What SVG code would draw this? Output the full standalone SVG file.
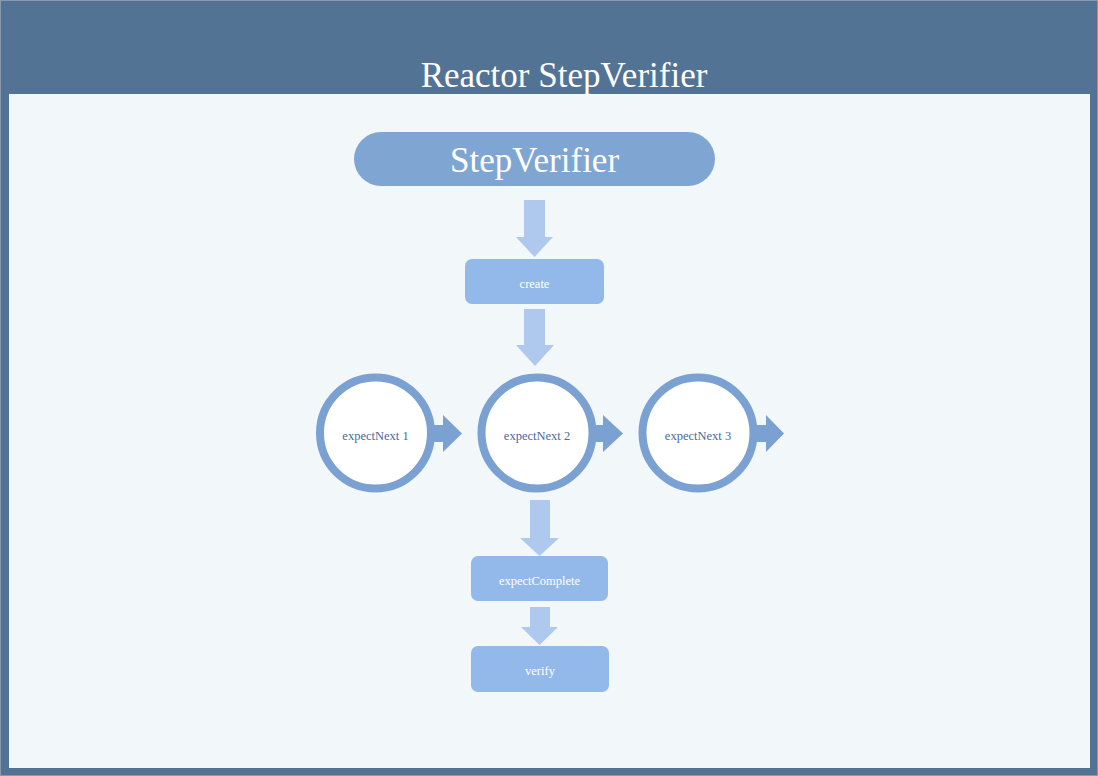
<svg xmlns="http://www.w3.org/2000/svg" width="1098" height="776" viewBox="0 0 1098 776">
<defs>
<style>
.title{font-family:"Liberation Serif","DejaVu Serif",serif;fill:#ffffff;text-anchor:middle}
.box{fill:#93b9eb}
.btxt{font-family:"Liberation Serif","DejaVu Serif",serif;font-size:12.5px;fill:#ffffff;text-anchor:middle}
.circ{fill:#ffffff;stroke:#7ba1d3;stroke-width:8}
.ctxt{font-family:"Liberation Serif","DejaVu Serif",serif;font-size:12.5px;fill:#4a6a9a;text-anchor:middle}
.varr{fill:#aec9ed}
.harr{fill:#7ba1d3}
</style>
</defs>
<rect x="0" y="0" width="1098" height="776" fill="#537394"/>
<rect x="0.5" y="0.5" width="1097" height="775" fill="none" stroke="#8a9aac" stroke-width="1"/>
<rect x="9" y="94" width="1081" height="674" fill="#f2f7f9"/>
<text class="title" x="564" y="87" font-size="35">Reactor StepVerifier</text>

<g id="connectors">
<polygon class="varr" points="524,200 545,200 545,237 553,237 534.5,257 516,237 524,237"/>
<polygon class="varr" points="524,309 545,309 545,345 554,345 535,366 516,345 524,345"/>
<polygon class="harr" points="432,425 443,425 443,415 462,433.5 443,452 443,442 432,442"/>
<polygon class="harr" points="594,425 603,425 603,415 623,433.5 603,452 603,442 594,442"/>
<polygon class="harr" points="756,425 766,425 766,415 784,433.5 766,452 766,442 756,442"/>
<polygon class="varr" points="530,500 550,500 550,538 559,538 539.5,556 520,538 530,538"/>
<polygon class="varr" points="530,607 550,607 550,627 558,627 539.5,645 521,627 530,627"/>
</g>

<g id="stepverifier">
<rect x="354" y="132" width="361" height="54" rx="27" fill="#7fa5d3"/>
<text class="title" x="534.5" y="172" font-size="35">StepVerifier</text>
</g>
<g id="create">
<rect class="box" x="465" y="259" width="139" height="45" rx="7"/>
<text class="btxt" x="534.5" y="288">create</text>
</g>
<g id="expectNext1">
<circle class="circ" cx="375.5" cy="433" r="55.5"/>
<text class="ctxt" x="375.5" y="440">expectNext 1</text>
</g>
<g id="expectNext2">
<circle class="circ" cx="537" cy="433" r="55.5"/>
<text class="ctxt" x="537" y="440">expectNext 2</text>
</g>
<g id="expectNext3">
<circle class="circ" cx="698" cy="433" r="55.5"/>
<text class="ctxt" x="698" y="440">expectNext 3</text>
</g>
<g id="expectComplete">
<rect class="box" x="471" y="556" width="137" height="45" rx="7"/>
<text class="btxt" x="539.5" y="585">expectComplete</text>
</g>
<g id="verify">
<rect class="box" x="471" y="646" width="138" height="46" rx="7"/>
<text class="btxt" x="540" y="675">verify</text>
</g>
</svg>
